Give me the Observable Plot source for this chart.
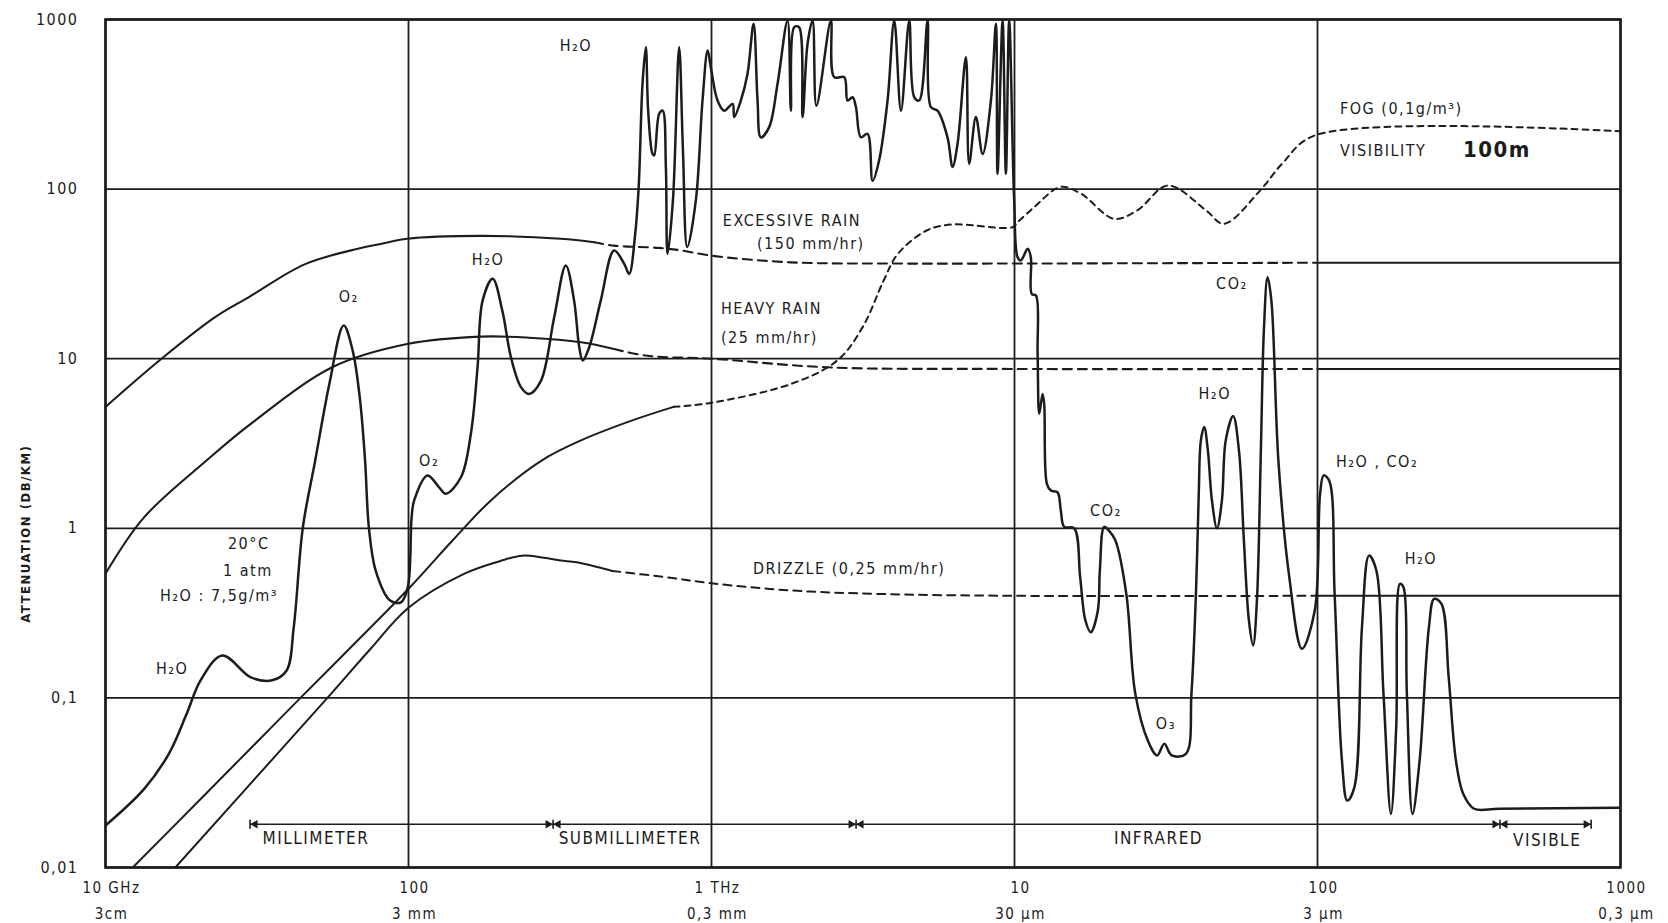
<!DOCTYPE html>
<html><head><meta charset="utf-8">
<script src="https://cdn.jsdelivr.net/npm/d3@7"></script>
<script src="https://cdn.jsdelivr.net/npm/@observablehq/plot@0.6"></script>
<style>
html,body{margin:0;padding:0;background:#fff;}
#chart svg{display:block;}
#chart svg text{letter-spacing:1.5px;}
g[aria-label="band-label"] text{letter-spacing:3px;}
g[aria-label="note-start"] text, g[aria-label="note-mid"] text{letter-spacing:2.5px;}
g[aria-label="y-title"] text{letter-spacing:3.5px;}
</style></head><body><div id="chart"></div>
<script>
// ---- axes ----
const xTicks = [10, 100, 1000, 10000, 100000, 1000000];
const xTickLabels = ["10 GHz\n3cm", "100\n3 mm", "1 THz\n0,3 mm", "10\n30 µm", "100\n3 µm", "1000\n0,3 µm"];
const yTicks = [0.01, 0.1, 1, 10, 100, 1000];
const yTickLabels = ["0,01", "0,1", "1", "10", "100", "1000"];
const yTitle = "ATTENUATION (DB/KM)";
const yTitleLevel = 0.93;

// ---- series: [frequency GHz, attenuation dB/km] ----
const atmosphere = [[10,0.0177],[13.4,0.029],[16.2,0.047],[18.5,0.08],[20.6,0.127],[24.3,0.178],[30.2,0.132],[35.5,0.127],[39.6,0.145],[41.8,0.26],[44.8,1.01],[49.2,2.5],[54.8,7.1],[61.1,15.7],[65.4,11.2],[69.2,5.7],[71.9,2.5],[74,1.01],[78,0.56],[87,0.375],[94.4,0.366],[99.5,0.45],[102.4,1.16],[104.4,1.46],[115.6,2.05],[126,1.75],[132.8,1.6],[149,2.0],[160.6,3.6],[169,8.9],[175.6,22],[189.6,29.6],[204,19.2],[217.8,10.2],[235,6.8],[250,6.2],[273.5,7.4],[302.7,17.6],[330.4,35.5],[352,22],[366,11.7],[376,9.75],[395,11.7],[431,22],[477,43.5],[515,36.3],[535,31.6],[560,54.5],[575,103],[592,418],[607,687],[618,290],[639,161],[647,158],[672,278],[690,290],[707,135],[716,41.5],[746,86],[782,687],[805,169],[832,45.5],[888,86],[934,333],[971,656],[995,523],[1047,333],[1101,290],[1174,318],[1188,266],[1250,333],[1315,479],[1377,944],[1419,333],[1455,202],[1550,232],[1652,418],[1782,987],[1828,290],[1875,901],[1945,901],[1998,266],[2075,719],[2156,987],[2220,310],[2478,987],[2541,457],[2742,457],[2812,333],[2922,348],[2997,304],[3112,202],[3273,212],[3402,112],[3575,148],[3811,333],[4010,987],[4220,290],[4494,987],[4668,348],[4848,333],[5166,987],[5297,304],[5570,290],[6010,202],[6246,135],[6487,185],[6913,600],[7087,141],[7458,266],[7849,161],[8360,333],[8683,944],[8790,123],[9134,987],[9367,123],[9605,987],[9975,86],[10240,39.7],[10500,38],[11050,44.5],[11320,39.7],[11400,24.1],[11770,23.6],[11920,10.7],[12070,4.73],[12380,6.2],[12530,5.42],[12790,1.83],[13180,1.67],[13870,1.63],[14220,1.27],[14590,1.02],[15740,1.0],[16470,0.515],[17140,0.286],[17860,0.244],[18840,0.328],[19130,0.564],[19770,1.02],[20490,0.97],[21520,0.85],[23390,0.41],[25040,0.106],[27540,0.056],[29550,0.0458],[31220,0.0537],[33000,0.0458],[36800,0.0468],[38370,0.106],[39700,0.41],[40560,1.6],[41220,3.3],[42280,3.95],[43470,2.88],[44830,1.46],[46580,1.0],[48370,1.46],[49790,3.3],[52680,4.6],[55050,2.88],[57150,0.85],[59380,0.286],[61310,0.204],[63100,0.375],[65030,2.88],[66530,14.7],[68420,30.2],[70440,22],[74300,2.5],[80700,0.515],[88850,0.195],[97950,0.328],[102000,1.6],[104800,2.05],[109300,1.91],[113900,0.41],[120400,0.0428],[125400,0.0248],[132400,0.0298],[140200,0.261],[147900,0.69],[156400,0.564],[165100,0.106],[174700,0.0207],[181900,0.0672],[187100,0.47],[192100,0.45],[197200,0.106],[205800,0.0207],[217300,0.0428],[233200,0.261],[242700,0.384],[256500,0.358],[271000,0.132],[286300,0.0428],[302600,0.0272],[328700,0.0222],[398700,0.0222],[1000000,0.0225]];

const excessiveRain = [[10,5.2],[15.3,10.0],[23,17.6],[30,23.3],[45.4,36],[68,44.5],[81,47.5],[99,51],[173,53],[318,51],[410,48.6],[477,46.4],[670,45],[794,43.5],[1000,40.5],[1830,37],[4120,36.4],[10000,36.4],[100000,36.8],[1000000,36.8]];
const excessiveDash = [410, 100000];

const heavyRain = [[10,0.54],[13.4,1.16],[21.5,2.5],[30,4.1],[56,8.9],[99,12.2],[173,13.5],[250,13.3],[371,12.5],[477,11.4],[615,10.4],[1000,10.0],[2400,8.9],[10000,8.7],[100000,8.7],[1000000,8.7]];
const heavyDash = [477, 100000];

const drizzle = [[10,0.0035],[17,0.01],[30,0.031],[54,0.1],[75,0.195],[100,0.34],[153,0.54],[200,0.64],[237,0.69],[280,0.67],[318,0.645],[359,0.63],[471,0.56],[707,0.515],[1000,0.474],[1830,0.43],[3590,0.41],[10000,0.40],[100000,0.40],[1000000,0.40]];
const drizzleDash = [471, 100000];

const fog = [[10,0.0069],[12.3,0.01],[20,0.024],[30,0.05],[44,0.1],[70,0.23],[100,0.44],[140,0.85],[187,1.46],[274,2.5],[371,3.3],[542,4.3],[750,5.2],[1000,5.5],[1830,7.1],[2600,9.75],[3150,15.3],[3700,28.9],[4120,41.5],[5130,57],[6200,61.8],[9840,59.6],[10240,63.8],[11590,78],[14200,103],[16560,94],[21300,66.8],[25400,74.8],[32100,105],[42900,74.8],[49100,62.4],[64600,98],[76400,141],[97800,207],[1000000,219]];
const fogDash = [750, 1000000];

// ---- band bar ----
const bandLevel = 0.018;
const bandSpan = [30, 800000];
const bandEdges = [30, 300, 3000, 400000, 800000];
const arrowsPointRight = [300, 3000, 400000, 800000];
const arrowsPointLeft = [30, 300, 3000, 400000];
const bandLabels = [["MILLIMETER", 33, 0.0148], ["SUBMILLIMETER", 313, 0.0148], ["INFRARED", 21280, 0.0148], ["VISIBLE", 441600, 0.0144]];

// ---- annotations [text, freq GHz, dB/km] ----
const notesMid = [["H₂O",357,703],["O₂",63.5,23],["H₂O",183,38],["O₂",117,2.5],["20°C",29.7,0.81],["1 atm",29.5,0.56],["H₂O : 7,5g/m³",23.7,0.40],["H₂O",16.6,0.149],["CO₂",52180,27.8],["H₂O",45800,6.24],["CO₂",20030,1.26],["O₃",31600,0.0706],["H₂O",219300,0.664]];
const notesStart = [["EXCESSIVE RAIN",1090,65.3],["(150 mm/hr)",1413,47.8],["HEAVY RAIN",1074,19.8],["(25 mm/hr)",1074,13.3],["DRIZZLE (0,25 mm/hr)",1370,0.58],["FOG (0,1g/m³)",118600,298],["VISIBILITY",118600,169],["H₂O , CO₂",115000,2.48]];
const notesBold = [["100m",302000,169]];

// ---- build ----
const ink = "#1c1c1c";
function pieces(series, [a, b]) {
  return {
    solid: [series.filter(d => d[0] <= a), series.filter(d => d[0] >= b)].filter(s => s.length > 1),
    dashed: series.filter(d => d[0] >= a && d[0] <= b)
  };
}
const lineOpts = (extra) => Object.assign({x: d => d[0], y: d => d[1], curve: "catmull-rom", stroke: ink, clip: true}, extra);
const marks = [];
for (const [series, dash, dashArray, w] of [[excessiveRain, excessiveDash, "9,6", 2.1], [heavyRain, heavyDash, "9,6", 2.1], [drizzle, drizzleDash, "8,6", 2], [fog, fogDash, "6,5", 2]]) {
  const p = pieces(series, dash);
  for (const s of p.solid) marks.push(Plot.line(s, lineOpts({strokeWidth: w})));
  marks.push(Plot.line(p.dashed, lineOpts({strokeWidth: w, strokeDasharray: dashArray})));
}
const xLabelMap = new Map(xTicks.map((t, i) => [t, xTickLabels[i]]));
const yLabelMap = new Map(yTicks.map((t, i) => [t, yTickLabels[i]]));
const barSymbol = {draw(ctx, size) { const h = Math.sqrt(size / Math.PI); ctx.moveTo(0, -h); ctx.lineTo(0, h); }};

const chart = Plot.plot({
  width: 1668, height: 923,
  marginLeft: 105, marginRight: 48, marginTop: 19, marginBottom: 56,
  style: {fontFamily: "'DejaVu Sans Condensed','DejaVu Sans',sans-serif", background: "#fff", color: ink, overflow: "visible"},
  x: {type: "log", domain: [10, 1000000]},
  y: {type: "log", domain: [0.01, 1000]},
  marks: [
    Plot.gridX(xTicks, {stroke: ink, strokeOpacity: 1, strokeWidth: 1.8}),
    Plot.gridY(yTicks, {stroke: ink, strokeOpacity: 1, strokeWidth: 1.8}),
    Plot.frame({stroke: ink, strokeWidth: 2.6}),
    Plot.axisX({ticks: xTicks, tickFormat: d => xLabelMap.get(d), tickSize: 0, tickPadding: 7, fontSize: 15, lineHeight: 1.75, dx: 6, label: null}),
    Plot.axisY({ticks: yTicks, tickFormat: d => yLabelMap.get(d), tickSize: 0, tickPadding: 27, fontSize: 16, label: null}),
    Plot.text([yTitle], {y: () => yTitleLevel, frameAnchor: "left", textAnchor: "middle", dx: -80, rotate: -90, fontSize: 13, fontWeight: "bold", fill: ink, ariaLabel: "y-title"}),
    // band bar
    Plot.link([bandSpan], {x1: d => d[0], x2: d => d[1], y1: () => bandLevel, y2: () => bandLevel, stroke: ink, strokeWidth: 1.5}),
    Plot.dot(bandEdges, {x: d => d, y: () => bandLevel, symbol: barSymbol, r: 4.5, stroke: ink, strokeWidth: 1.6}),
    Plot.dot(arrowsPointRight, {x: d => d, y: () => bandLevel, symbol: "triangle", rotate: 90, r: 3.2, fill: ink, stroke: "none", dx: -5}),
    Plot.dot(arrowsPointLeft, {x: d => d, y: () => bandLevel, symbol: "triangle", rotate: -90, r: 3.2, fill: ink, stroke: "none", dx: 5}),
    Plot.text(bandLabels, {x: d => d[1], y: d => d[2], text: d => d[0], textAnchor: "start", fontSize: 17, fill: ink, ariaLabel: "band-label"}),
    // curves
    ...marks,
    Plot.line(atmosphere, lineOpts({strokeWidth: 2.5})),
    // notes
    Plot.text(notesMid, {x: d => d[1], y: d => d[2], text: d => d[0], textAnchor: "middle", fontSize: 16, fill: ink, ariaLabel: "note-mid"}),
    Plot.text(notesStart, {x: d => d[1], y: d => d[2], text: d => d[0], textAnchor: "start", fontSize: 16, fill: ink, ariaLabel: "note-start"}),
    Plot.text(notesBold, {x: d => d[1], y: d => d[2], text: d => d[0], textAnchor: "start", fontSize: 22, fontWeight: "bold", fill: ink})
  ]
});
document.getElementById("chart").appendChild(chart);
</script></body></html>
